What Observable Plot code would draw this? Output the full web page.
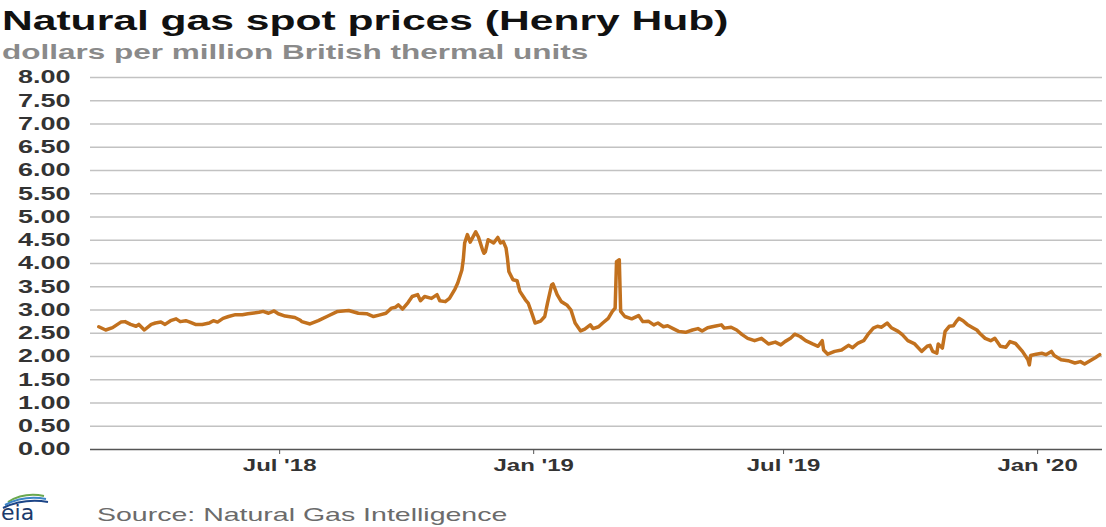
<!DOCTYPE html>
<html><head><meta charset="utf-8">
<script src="https://cdn.jsdelivr.net/npm/d3@7"></script>
<script src="https://cdn.jsdelivr.net/npm/@observablehq/plot@0.6"></script>
<style>
body{margin:0;background:#fff;font-family:"Liberation Sans",Arial,sans-serif;}
#wrap{position:relative;width:1106px;height:527px;overflow:hidden;background:#fff;}
.t{position:absolute;white-space:nowrap;transform-origin:0 0;transform:scaleX(1.5);}
#title{left:2px;top:6px;font-size:28.4px;font-weight:bold;line-height:28px;color:#111;}
#sub{left:2px;top:41px;font-size:21px;font-weight:bold;line-height:21px;color:#8a8a8a;}
#src{left:97px;top:505px;font-size:19px;line-height:19px;color:#6b6b6b;}
#chart{position:absolute;left:0;top:67px;}
#logo{position:absolute;left:0;top:482px;}
#chart svg text{font-family:"Liberation Sans",Arial,sans-serif;font-weight:bold;}
#chart svg g[aria-label="y-axis tick label"]{font-size:18px;fill:#333;}
#chart svg g[aria-label="x-axis tick label"]{font-size:16px;fill:#333;}
</style></head><body>
<div id="wrap">
<div id="title" class="t">Natural gas spot prices (Henry Hub)</div>
<div id="sub" class="t">dollars per million British thermal units</div>
<div id="chart"></div>
<svg id="logo" width="80" height="44" viewBox="0 0 80 44">
  <path d="M8 20 Q24 10 44 14" fill="none" stroke="#6aa84f" stroke-width="2"/>
  <path d="M5 23 Q24 13 46 17" fill="none" stroke="#3d85c6" stroke-width="2"/>
  <path d="M3 26 Q24 16 48 20" fill="none" stroke="#1c4587" stroke-width="2"/>
  <text x="1" y="38" font-family="DejaVu Sans" font-size="22" fill="#1b3a6b">eia</text>
</svg>
<div id="src" class="t">Source: Natural Gas Intelligence</div>
</div>
<script>
const dates = ["2018-02-20","2018-02-25","2018-03-02","2018-03-08","2018-03-11","2018-03-15","2018-03-19","2018-03-21","2018-03-25","2018-03-30","2018-04-02","2018-04-06","2018-04-09","2018-04-13","2018-04-17","2018-04-20","2018-04-24","2018-04-27","2018-05-01","2018-05-06","2018-05-11","2018-05-14","2018-05-17","2018-05-21","2018-05-25","2018-05-30","2018-06-04","2018-06-08","2018-06-11","2018-06-16","2018-06-19","2018-06-23","2018-06-27","2018-06-30","2018-07-05","2018-07-12","2018-07-16","2018-07-17","2018-07-23","2018-07-29","2018-08-05","2018-08-12","2018-08-20","2018-08-27","2018-09-02","2018-09-07","2018-09-11","2018-09-16","2018-09-20","2018-09-23","2018-09-25","2018-09-28","2018-10-02","2018-10-05","2018-10-09","2018-10-11","2018-10-14","2018-10-19","2018-10-23","2018-10-25","2018-10-29","2018-11-01","2018-11-05","2018-11-07","2018-11-10","2018-11-11","2018-11-12","2018-11-14","2018-11-16","2018-11-20","2018-11-22","2018-11-25","2018-11-26","2018-11-27","2018-11-29","2018-12-03","2018-12-06","2018-12-08","2018-12-10","2018-12-12","2018-12-13","2018-12-14","2018-12-17","2018-12-20","2018-12-22","2018-12-26","2018-12-28","2018-12-31","2019-01-02","2019-01-06","2019-01-09","2019-01-11","2019-01-14","2019-01-15","2019-01-18","2019-01-21","2019-01-25","2019-01-28","2019-01-31","2019-02-04","2019-02-07","2019-02-11","2019-02-13","2019-02-17","2019-02-20","2019-02-24","2019-02-27","2019-03-01","2019-03-02","2019-03-04","2019-03-05","2019-03-08","2019-03-13","2019-03-18","2019-03-21","2019-03-25","2019-03-29","2019-04-01","2019-04-05","2019-04-08","2019-04-12","2019-04-16","2019-04-21","2019-04-26","2019-04-30","2019-05-03","2019-05-07","2019-05-12","2019-05-17","2019-05-19","2019-05-24","2019-05-28","2019-06-01","2019-06-05","2019-06-10","2019-06-15","2019-06-20","2019-06-25","2019-06-29","2019-07-02","2019-07-06","2019-07-09","2019-07-13","2019-07-17","2019-07-22","2019-07-26","2019-07-29","2019-07-30","2019-08-02","2019-08-07","2019-08-12","2019-08-17","2019-08-20","2019-08-24","2019-08-28","2019-08-31","2019-09-04","2019-09-07","2019-09-10","2019-09-14","2019-09-17","2019-09-22","2019-09-25","2019-09-29","2019-10-04","2019-10-09","2019-10-13","2019-10-15","2019-10-17","2019-10-20","2019-10-21","2019-10-24","2019-10-26","2019-10-29","2019-11-01","2019-11-03","2019-11-05","2019-11-08","2019-11-11","2019-11-15","2019-11-18","2019-11-20","2019-11-24","2019-11-28","2019-12-01","2019-12-05","2019-12-09","2019-12-12","2019-12-16","2019-12-21","2019-12-25","2019-12-26","2019-12-27","2019-12-31","2020-01-04","2020-01-07","2020-01-11","2020-01-13","2020-01-18","2020-01-23","2020-01-28","2020-02-01","2020-02-04","2020-02-08","2020-02-12","2020-02-15"];
const prices = [2.64,2.57,2.62,2.74,2.75,2.69,2.65,2.69,2.57,2.69,2.72,2.74,2.69,2.77,2.81,2.75,2.77,2.74,2.69,2.69,2.72,2.77,2.74,2.82,2.86,2.90,2.90,2.92,2.93,2.95,2.97,2.93,2.98,2.92,2.87,2.84,2.78,2.75,2.70,2.77,2.87,2.97,2.99,2.93,2.92,2.86,2.89,2.93,3.04,3.06,3.11,3.02,3.16,3.29,3.33,3.20,3.29,3.25,3.33,3.20,3.18,3.25,3.45,3.58,3.86,4.08,4.44,4.62,4.46,4.68,4.57,4.29,4.22,4.25,4.51,4.44,4.56,4.44,4.47,4.33,4.11,3.83,3.65,3.63,3.40,3.22,3.15,2.90,2.72,2.76,2.86,3.15,3.54,3.56,3.33,3.18,3.11,3.00,2.72,2.55,2.59,2.68,2.60,2.64,2.72,2.82,2.97,3.04,4.04,4.08,2.97,2.86,2.81,2.88,2.75,2.76,2.68,2.72,2.64,2.66,2.60,2.54,2.52,2.57,2.60,2.55,2.62,2.65,2.68,2.61,2.63,2.57,2.47,2.39,2.34,2.39,2.27,2.31,2.25,2.32,2.39,2.48,2.43,2.34,2.27,2.22,2.34,2.14,2.05,2.11,2.14,2.24,2.19,2.29,2.34,2.47,2.61,2.65,2.63,2.72,2.62,2.54,2.47,2.34,2.27,2.11,2.22,2.24,2.11,2.07,2.27,2.18,2.54,2.65,2.66,2.75,2.82,2.77,2.69,2.62,2.57,2.50,2.39,2.34,2.39,2.22,2.20,2.32,2.28,2.11,1.93,1.82,2.02,2.05,2.07,2.04,2.11,2.02,1.93,1.91,1.86,1.89,1.84,1.91,1.98,2.04];
const yTicks = [0,0.5,1,1.5,2,2.5,3,3.5,4,4.5,5,5.5,6,6.5,7,7.5,8];
const xTicks = ["2018-07-01","2019-01-01","2019-07-01","2020-01-01"];
const xDomain = ["2018-02-14","2020-02-17"];

const data = dates.map((d, i) => ({date: new Date(d), price: prices[i]}));

const chart = Plot.plot({
  width: 1106,
  height: 412,
  marginTop: 10,
  marginBottom: 30,
  marginLeft: 90,
  marginRight: 4,
  style: {fontFamily: "Liberation Sans, Arial, sans-serif", background: "transparent"},
  x: {type: "utc", domain: xDomain.map(d => new Date(d))},
  y: {domain: [0, 8]},
  marks: [
    Plot.ruleY(yTicks.filter(d => d > 0), {stroke: "#c2c2c2", strokeWidth: 1.5}),
    Plot.ruleY([0], {stroke: "#555", strokeWidth: 1.5}),
    Plot.lineY(data, {x: "date", y: "price", stroke: "#c2711e", strokeWidth: 3.5, strokeLinejoin: "round", strokeLinecap: "round"}),
    Plot.axisY({ticks: yTicks, tickFormat: d => d.toFixed(2), tickSize: 0, tickPadding: 20, label: null}),
    Plot.axisX({ticks: xTicks.map(d => new Date(d)), tickFormat: d3.utcFormat("%b '%y"), tickSize: 5, tickPadding: 5, stroke: "#555", label: null})
  ]
});
document.getElementById("chart").appendChild(chart);

// horizontal stretch of tick labels about their anchor (local origin), matching the reference typography
chart.querySelectorAll('g[aria-label="y-axis tick label"] text, g[aria-label="x-axis tick label"] text').forEach(t => {
  const tr = t.getAttribute("transform") || "";
  t.setAttribute("transform", tr + " scale(1.5,1)");
});
</script>
</body></html>
